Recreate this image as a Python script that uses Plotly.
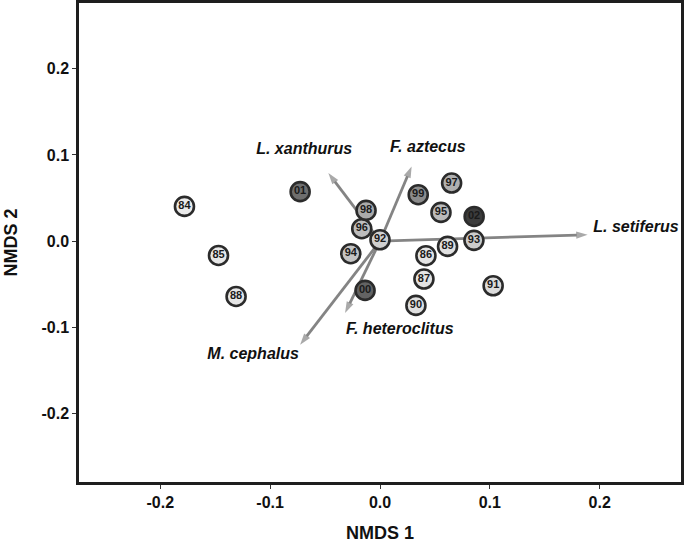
import plotly.graph_objects as go

# ---- data ----
years = ["84", "85", "86", "87", "88", "89", "90", "91", "92", "93",
         "94", "95", "96", "97", "98", "99", "00", "01", "02"]
nmds1 = [-0.178, -0.147, 0.0418, 0.040, -0.131, 0.0615, 0.0327, 0.103, 0.0, 0.0855,
         -0.0266, 0.0555, -0.0166, 0.0652, -0.0127, 0.0348, -0.0136, -0.0727, 0.0857]
nmds2 = [0.0403, -0.0165, -0.0168, -0.0438, -0.064, -0.006, -0.0744, -0.0516, 0.0017, 0.001,
         -0.0145, 0.0334, 0.0145, 0.0674, 0.0357, 0.0539, -0.057, 0.0574, 0.0287]
fills = ["#ebebeb", "#e8e8e8", "#e4e4e4", "#e4e4e4", "#e6e6e6", "#e0e0e0", "#e0e0e0", "#dcdcdc",
         "#d0d0d0", "#cccccc", "#c4c4c4", "#bbbbbb", "#bdbdbd", "#b0b0b0", "#aaaaaa",
         "#8c8c8c", "#636363", "#6e6e6e", "#3c3c3c"]

species = ["L. xanthurus", "F. aztecus", "L. setiferus", "F. heteroclitus", "M. cephalus"]
vec1 = [-0.047, 0.0288, 0.189, -0.0318, -0.0727]
vec2 = [0.079, 0.0867, 0.0075, -0.0832, -0.120]
lab1 = [-0.069, 0.0436, 0.233, 0.018, -0.1155]
lab2 = [0.106, 0.108, 0.0156, -0.103, -0.1315]

x_ticks = [-0.2, -0.1, 0.0, 0.1, 0.2]
x_ticktext = ["-0.2", "-0.1", "0.0", "0.1", "0.2"]
y_ticks = [-0.2, -0.1, 0.0, 0.1, 0.2]
y_ticktext = ["-0.2", "-0.1", "0.0", "0.1", "0.2"]

FONT = "Liberation Sans, Arial, sans-serif"

fig = go.Figure()

# vectors (drawn first so points sit on top)
for sp, vx, vy in zip(species, vec1, vec2):
    fig.add_trace(go.Scatter(
        x=[0, vx], y=[0, vy], mode="lines+markers",
        line=dict(color="#848484", width=2.8),
        marker=dict(symbol="arrow", size=[0, 12], angleref="previous",
                    color="#848484", line=dict(width=0)),
        hoverinfo="skip", showlegend=False))

# sample points
fig.add_trace(go.Scatter(
    x=nmds1, y=nmds2, mode="markers+text", text=years,
    textposition="middle center",
    textfont=dict(family=FONT, size=11, color="#1a1a1a", weight="bold"),
    marker=dict(size=19, color=fills, line=dict(color="#2b2b2b", width=2.6)),
    hoverinfo="skip", showlegend=False))

# species labels
fig.add_trace(go.Scatter(
    x=lab1, y=lab2, mode="text", text=species, textposition="middle center",
    textfont=dict(family=FONT, size=16, color="#111111", weight="bold", style="italic"),
    hoverinfo="skip", showlegend=False))

axis_common = dict(
    showgrid=False, zeroline=False, showline=True, mirror=True,
    linecolor="#1e1e1e", linewidth=2.5,
    ticks="outside", ticklen=4, tickwidth=1, tickcolor="#333",
    tickfont=dict(family=FONT, size=16, color="#111", weight="bold"),
)

fig.update_layout(
    width=685, height=543,
    margin=dict(l=79, r=4, t=3, b=61, autoexpand=False),
    paper_bgcolor="white", plot_bgcolor="white",
    xaxis=dict(range=[-0.274, 0.274], tickvals=x_ticks, ticktext=x_ticktext,
               title=dict(text="NMDS 1", font=dict(family=FONT, size=18, color="#111", weight="bold"),
                          standoff=22),
               **axis_common),
    yaxis=dict(range=[-0.279, 0.276], tickvals=y_ticks, ticktext=y_ticktext,
               title=dict(text="NMDS 2", font=dict(family=FONT, size=18, color="#111", weight="bold"),
                          standoff=20),
               **axis_common),
)

fig.write_html("out.html", config={"displayModeBar": False},
               post_script="document.body.style.margin='0';")
